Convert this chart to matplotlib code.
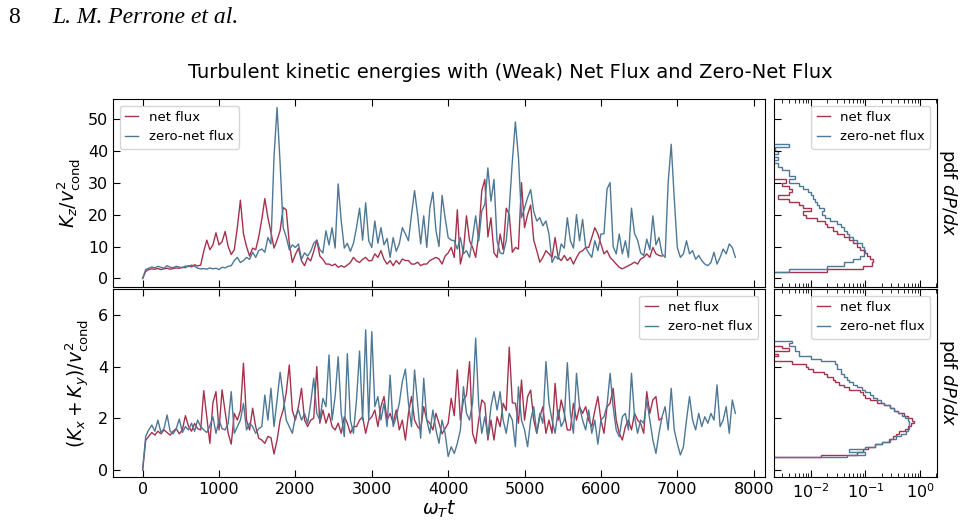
import numpy as np
import matplotlib
matplotlib.use("Agg")
import matplotlib.pyplot as plt

# ---------------- data ----------------
dt = 40.0  # sampling of omega_T t

kz_net = [
    0.0, 2.2, 2.8, 3.0, 2.9, 3.1, 2.8, 3.0, 3.2, 2.9,
    3.1, 3.3, 3.2, 3.5, 3.4, 4.0, 3.6, 4.3, 3.9, 4.2,
    8.5, 12.0, 9.0, 10.5, 14.3, 10.5, 11.5, 14.7, 10.0, 7.5,
    9.0, 16.0, 24.5, 14.0, 10.0, 7.0, 9.5, 9.0, 13.0, 18.5,
    25.0, 19.0, 14.5, 9.5, 12.0, 15.0, 22.2, 21.5, 11.0, 5.0,
    7.5, 9.5, 5.5, 4.0, 6.5, 5.5, 8.5, 12.0, 7.0, 6.0,
    4.5, 4.5, 4.0, 4.5, 3.5, 4.0, 3.5, 4.2, 5.0, 6.6,
    5.5, 5.0, 6.0, 6.6, 5.5, 5.6, 7.7, 6.6, 8.7, 6.0,
    4.5, 5.6, 4.0, 5.6, 4.5, 6.1, 5.6, 5.6, 4.5, 4.5,
    5.1, 4.0, 4.5, 4.5, 5.6, 6.1, 6.6, 6.1, 4.5, 7.0,
    8.0, 9.7, 6.6, 21.5, 4.5, 8.7, 19.6, 11.8, 9.7, 6.6,
    13.9, 27.5, 31.0, 13.0, 19.0, 8.0, 6.6, 13.9, 9.0, 22.0,
    20.0, 8.2, 9.7, 9.2, 30.0, 15.9, 20.0, 23.0, 12.0, 8.7,
    5.1, 6.6, 8.7, 7.7, 6.6, 12.8, 6.6, 5.6, 7.2, 5.6,
    6.6, 4.5, 6.5, 8.2, 8.7, 9.7, 9.7, 12.8, 15.9, 13.9,
    10.8, 7.7, 8.7, 6.6, 5.6, 4.5, 3.5, 3.0, 3.5, 4.0,
    4.5, 5.1, 4.5, 6.1, 6.6, 7.7, 6.6, 9.7, 7.7, 7.2,
    7.0,
]

kz_zero = [
    0.0, 2.8, 3.2, 3.6, 3.3, 3.8, 3.5, 3.2, 4.0, 3.5,
    3.4, 3.8, 3.6, 3.3, 3.9, 3.7, 4.2, 3.8, 3.2, 3.0,
    3.1, 2.9, 3.3, 3.0, 3.2, 2.8, 3.5, 3.3, 3.8, 4.0,
    5.6, 6.6, 5.0, 5.6, 6.6, 6.0, 8.2, 6.6, 8.7, 9.2,
    8.2, 12.8, 10.8, 38.0, 53.5, 36.0, 15.9, 13.0, 9.0, 10.5,
    9.7, 10.8, 6.0, 8.0, 7.0, 8.5, 11.0, 12.0, 9.0, 8.0,
    14.9, 10.5, 15.9, 9.5, 29.6, 18.0, 9.5, 11.0, 8.5, 11.0,
    15.9, 22.0, 12.0, 23.7, 11.8, 9.7, 18.0, 11.0, 15.9, 10.5,
    12.5, 6.6, 12.8, 8.5, 10.8, 15.9, 13.9, 11.8, 20.0, 27.5,
    20.0, 10.8, 19.6, 9.7, 22.0, 27.0, 15.0, 10.0, 26.0, 19.0,
    12.8, 12.0, 11.8, 9.2, 12.8, 7.7, 8.7, 6.6, 12.8, 19.6,
    11.8, 21.1, 23.2, 34.6, 24.2, 31.0, 11.8, 8.0, 7.7, 11.8,
    22.0, 36.6, 49.0, 38.0, 19.0, 22.0, 25.3, 27.8, 21.0, 18.0,
    19.0, 16.5, 18.0, 13.9, 5.0, 7.0, 6.0, 10.8, 9.5, 19.0,
    11.8, 9.5, 20.0, 11.8, 18.5, 9.7, 8.0, 6.6, 11.8, 8.7,
    13.9, 14.0, 28.0, 30.0, 10.0, 7.7, 13.9, 7.7, 11.8, 6.6,
    22.0, 14.0, 12.0, 8.0, 7.2, 12.3, 9.0, 19.6, 10.5, 12.8,
    7.7, 6.6, 30.0, 42.0, 25.0, 9.7, 6.6, 7.7, 11.8, 7.7,
    8.7, 6.0, 7.2, 5.6, 4.5, 4.0, 5.0, 8.2, 4.5, 6.6,
    9.2, 7.7, 10.8, 9.7, 6.6,
]

kxy_net = [
    0.0, 1.15, 1.3, 1.45, 1.35, 1.5, 1.4, 1.55, 1.45, 1.35,
    1.5, 1.6, 1.4, 1.55, 2.1, 1.7, 1.5, 1.8, 1.6, 1.55,
    3.07, 2.06, 1.03, 2.6, 3.03, 1.55, 3.1, 2.26, 1.42, 1.0,
    2.19, 1.93, 2.3, 4.13, 1.93, 1.55, 2.39, 1.68, 1.23, 1.16,
    1.03, 1.3, 1.25, 0.62, 1.16, 1.93, 2.32, 3.0, 4.06, 2.3,
    1.93, 2.45, 3.16, 1.93, 1.68, 1.93, 2.0, 4.0, 1.81, 2.32,
    1.81, 2.19, 1.68, 1.55, 1.81, 1.42, 2.06, 1.81, 1.42, 1.68,
    1.68, 1.93, 2.06, 1.42, 1.93, 2.06, 2.32, 1.68, 2.45, 2.84,
    1.93, 2.19, 1.81, 2.32, 1.55, 1.93, 1.16, 2.19, 2.84, 1.93,
    1.68, 1.55, 2.45, 1.93, 1.81, 1.55, 2.19, 1.81, 1.4, 1.6,
    1.81, 2.77, 2.1, 3.87, 1.93, 2.71, 2.9, 4.19, 1.42, 1.03,
    1.93, 2.71, 2.58, 1.16, 1.93, 1.16, 2.06, 1.68, 2.58, 2.3,
    4.75, 2.6, 2.58, 1.81, 3.48, 1.93, 2.84, 3.09, 1.93, 1.42,
    2.06, 2.45, 1.42, 1.93, 1.42, 3.35, 1.93, 2.71, 2.19, 1.55,
    1.55, 2.58, 1.93, 2.45, 2.19, 2.45, 1.93, 1.68, 2.3, 2.84,
    1.93, 1.42, 2.45, 2.58, 3.16, 1.93, 1.42, 1.16, 1.68, 1.93,
    1.55, 2.19, 1.93, 1.8, 1.42, 3.03, 2.19, 2.71, 2.84, 1.93,
    2.0,
]

kxy_zero = [
    0.0, 1.3, 1.55, 1.74, 1.5, 1.93, 1.45, 1.6, 2.13, 1.5,
    1.4, 1.6, 1.97, 1.45, 1.68, 1.55, 1.81, 1.5, 1.93, 1.68,
    1.55, 1.45, 1.7, 2.06, 1.42, 1.93, 1.6, 1.55, 1.8, 3.03,
    1.42, 1.68, 1.93, 2.58, 1.55, 1.81, 1.68, 1.42, 1.6, 1.68,
    2.9, 1.93, 3.16, 1.68, 2.71, 3.78, 2.84, 1.93, 1.68, 1.42,
    2.06, 2.32, 1.93, 2.19, 1.81, 2.58, 3.55, 2.19, 1.93, 2.77,
    2.45, 4.45, 1.93, 2.84, 4.38, 2.2, 1.29, 4.5, 1.93, 1.42,
    2.71, 4.6, 1.93, 5.42, 1.93, 5.35, 2.45, 2.84, 1.93, 2.58,
    1.68, 3.67, 1.68, 2.06, 2.58, 3.42, 3.9, 2.58, 1.68, 3.87,
    2.58, 1.23, 3.55, 1.93, 1.42, 2.32, 1.55, 1.03, 1.93, 1.42,
    0.52, 0.9, 0.64, 1.03, 1.55, 3.22, 2.19, 1.93, 2.6, 5.1,
    2.5, 1.42, 2.06, 1.29, 2.45, 3.03, 2.32, 3.03, 1.93, 1.42,
    2.19, 1.93, 0.9, 3.22, 1.93, 1.55, 0.9, 1.93, 2.45, 1.42,
    2.19, 1.81, 4.19, 2.58, 1.93, 1.42, 2.32, 1.68, 1.93, 4.15,
    2.19, 1.42, 3.74, 2.45, 1.93, 1.55, 2.32, 1.42, 1.93, 1.0,
    1.93, 2.06, 2.5, 3.74, 2.45, 1.55, 1.29, 2.06, 2.19, 1.55,
    3.74, 2.06, 1.42, 1.93, 1.81, 2.71, 1.93, 1.16, 0.64, 1.42,
    2.06, 2.45, 1.55, 3.16, 1.55, 1.03, 0.58, 0.9, 1.93, 2.84,
    1.93, 1.55, 2.19, 1.68, 2.06, 1.81, 2.19, 1.93, 3.29, 1.68,
    1.93, 2.45, 1.42, 2.71, 2.19,
]

# pdfs (bin edges along the variable axis, densities)
pdf_kz_net_edges = np.arange(2.0, 31.5, 1.0)
pdf_kz_net = [0.02, 0.09, 0.13, 0.135, 0.12, 0.105, 0.095, 0.08, 0.07, 0.06,
              0.05, 0.04, 0.03, 0.025, 0.02, 0.018, 0.013, 0.008, 0.007, 0.01,
              0.007, 0.006, 0.004, 0.0025, 0.004, 0.0045, 0.004, 0.003, 0.0035]
pdf_kz_zero_edges = np.arange(2.0, 42.5, 1.0)
pdf_kz_zero = [0.004, 0.02, 0.04, 0.06, 0.08, 0.095, 0.1, 0.095, 0.085, 0.07,
               0.06, 0.05, 0.045, 0.04, 0.035, 0.03, 0.022, 0.018, 0.016, 0.017,
               0.014, 0.013, 0.012, 0.011, 0.01, 0.009, 0.007, 0.006, 0.004, 0.005,
               0.004, 0.004, 0.003, 0.0025, 0.002, 0.0025, 0.002, 0.0025, 0.0022, 0.004]
pdf_kxy_net_edges = np.linspace(0.5, 4.8, 44)
pdf_kxy_net = [0.015, 0.07, 0.09, 0.11, 0.15, 0.2, 0.27, 0.32, 0.36, 0.42,
               0.52, 0.6, 0.68, 0.78, 0.7, 0.6, 0.5, 0.4, 0.33, 0.28,
               0.22, 0.16, 0.12, 0.1, 0.09, 0.08, 0.05, 0.04, 0.033, 0.028,
               0.025, 0.02, 0.017, 0.011, 0.009, 0.008, 0.0045, 1e-4, 1e-4, 0.0025,
               1e-4, 0.004, 0.003]
pdf_kxy_zero_edges = np.linspace(0.5, 5.0, 46)
pdf_kxy_zero = [0.045, 0.1, 0.05, 0.1, 0.15, 0.2, 0.28, 0.36, 0.45, 0.55,
                0.6, 0.62, 0.64, 0.62, 0.6, 0.52, 0.46, 0.4, 0.33, 0.28,
                0.22, 0.19, 0.16, 0.14, 0.12, 0.1, 0.085, 0.07, 0.06, 0.05,
                0.045, 0.04, 0.035, 0.035, 0.03, 0.03, 0.028, 0.015, 0.01, 0.006,
                0.006, 0.005, 0.005, 0.004, 0.0045]

labels = ["net flux", "zero-net flux"]
x_ticks = [0, 1000, 2000, 3000, 4000, 5000, 6000, 7000, 8000]

# ---------------- style ----------------
RED = "#a5324d"
BLUE = "#4d7896"
W, H = 966, 522
TICK_FS = 11.5
LABEL_FS = 13.5

fig = plt.figure(figsize=(W / 100, H / 100), dpi=100)

def rect(x0, y0, x1, y1):
    return [x0 / W, 1 - y1 / H, (x1 - x0) / W, (y1 - y0) / H]

ax1 = fig.add_axes(rect(113, 99, 765, 287))
ax2 = fig.add_axes(rect(113, 289, 765, 477), sharex=ax1)
p1 = fig.add_axes(rect(774, 99, 937, 287), sharey=ax1)
p2 = fig.add_axes(rect(774, 289, 937, 477), sharey=ax2, sharex=p1)

t_net = np.arange(len(kz_net)) * dt
t_zero = np.arange(len(kz_zero)) * dt

for ax, yn, yz in [(ax1, kz_net, kz_zero), (ax2, kxy_net, kxy_zero)]:
    ax.plot(t_net, yn, color=RED, lw=1.0, label=labels[0])
    ax.plot(t_zero, yz, color=BLUE, lw=1.0, label=labels[1])
    ax.set_xticks(x_ticks)
    ax.tick_params(direction="in", top=True, right=False, length=5,
                   labelsize=TICK_FS)

ax1.tick_params(labelbottom=False)
ax1.set_yticks([0, 10, 20, 30, 40, 50])
ax2.set_yticks([0, 2, 4, 6])
ax2.set_ylim(-0.27, 7.0)

ax1.set_ylabel(r"$K_z/v^2_{\rm cond}$", fontsize=LABEL_FS)
ax2.set_ylabel(r"$(K_x+K_y)/v^2_{\rm cond}$", fontsize=LABEL_FS)
ax2.set_xlabel(r"$\omega_T t$", fontsize=LABEL_FS, labelpad=1)

ax1.legend(loc="upper left", fontsize=9.5, handlelength=1.0)
ax2.legend(loc="upper right", fontsize=9.5, handlelength=1.0)

for p, (en, vn, ez, vz) in [
    (p1, (pdf_kz_net_edges, pdf_kz_net, pdf_kz_zero_edges, pdf_kz_zero)),
    (p2, (pdf_kxy_net_edges, pdf_kxy_net, pdf_kxy_zero_edges, pdf_kxy_zero)),
]:
    p.stairs(vn, en, orientation="horizontal", baseline=1e-5,
             color=RED, lw=1.0, label=labels[0])
    p.stairs(vz, ez, orientation="horizontal", baseline=1e-5,
             color=BLUE, lw=1.0, label=labels[1])
    p.set_xscale("log")
    p.set_xlim(2.1e-3, 2.05)
    p.tick_params(which="both", direction="in", top=True, right=False,
                  labelleft=False, labelsize=TICK_FS)
    p.tick_params(which="major", length=5)
    p.tick_params(which="minor", length=3)
    p.yaxis.set_label_position("right")
    p.set_ylabel(r"pdf $dP/dx$", rotation=270, fontsize=13, labelpad=16)
    p.legend(loc="upper right", fontsize=9.5, handlelength=1.0)

p1.tick_params(labelbottom=False)
p1.set_ylim(ax1.get_ylim())

fig.text(510 / W, 1 - 78 / H,
         "Turbulent kinetic energies with (Weak) Net Flux and Zero-Net Flux",
         ha="center", va="baseline", fontsize=14)
fig.text(8 / W, 1 - 23 / H, "8", family="Liberation Serif", fontsize=17,
         ha="left", va="baseline")
fig.text(52 / W, 1 - 23 / H, "L. M. Perrone et al.", family="Liberation Serif",
         style="italic", fontsize=17, ha="left", va="baseline")

fig.savefig("out.png", dpi=100)
